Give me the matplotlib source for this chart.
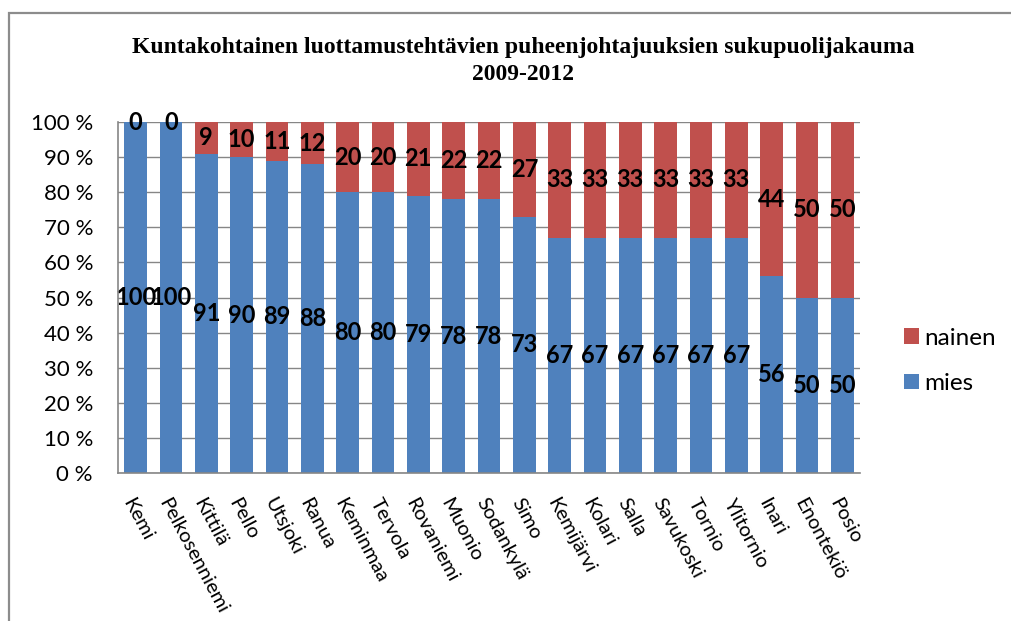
import matplotlib.pyplot as plt
import matplotlib.patches as patches
import numpy as np

# data
kunnat = ["Kemi", "Pelkosenniemi", "Kittilä", "Pello", "Utsjoki", "Ranua",
          "Keminmaa", "Tervola", "Rovaniemi", "Muonio", "Sodankylä", "Simo",
          "Kemijärvi", "Kolari", "Salla", "Savukoski", "Tornio", "Ylitornio",
          "Inari", "Enontekiö", "Posio"]
mies = [100, 100, 91, 90, 89, 88, 80, 80, 79, 78, 78, 73,
        67, 67, 67, 67, 67, 67, 56, 50, 50]
nainen = [0, 0, 9, 10, 11, 12, 20, 20, 21, 22, 22, 27,
          33, 33, 33, 33, 33, 33, 44, 50, 50]
yticks = np.arange(0, 101, 10)

blue = "#4F81BD"
red = "#C0504D"
grid = "#868686"

W, H = 1012, 621
fig = plt.figure(figsize=(W / 100, H / 100), dpi=100)
plt.rcParams["font.family"] = ["Lato", "DejaVu Sans"]

# outer chart frame (cut off at right and bottom)
fig.patches.append(patches.Rectangle((9 / W, -0.1), 1.2, 1.1 - 13 / H,
                                     transform=fig.transFigure, fill=False,
                                     edgecolor="#8c8c8c", linewidth=1.6))

ax = fig.add_axes([118 / W, (H - 473) / H, (860 - 118) / W, (473 - 122) / H])

mies_a = np.array(mies, dtype=float)
nainen_a = np.array(nainen, dtype=float)
tot = mies_a + nainen_a
mp = mies_a / tot * 100
np_ = nainen_a / tot * 100
x = np.arange(len(kunnat))

ax.bar(x, mp, width=0.64, color=blue, label="mies", zorder=3)
ax.bar(x, np_, width=0.64, bottom=mp, color=red, label="nainen", zorder=3)

# value labels in the middle of each segment (the 100s overlap, as in the original)
for i in range(len(kunnat)):
    ax.text(x[i], mp[i] / 2, str(mies[i]), ha="center", va="center",
            fontsize=17, fontweight="bold", zorder=4)
    ax.text(x[i], mp[i] + np_[i] / 2, str(nainen[i]), ha="center", va="center",
            fontsize=17, fontweight="bold", zorder=4)

ax.set_xlim(-0.5, len(kunnat) - 0.5)
ax.set_ylim(0, 100)
ax.set_yticks(yticks)
ax.set_yticklabels([f"{v} %" for v in yticks], fontsize=16)
ax.yaxis.grid(True, color=grid, linewidth=1, zorder=0)
ax.tick_params(axis="y", length=0, pad=18)
ax.tick_params(axis="x", length=0)
for s in ["top", "right"]:
    ax.spines[s].set_visible(False)
for s in ["left", "bottom"]:
    ax.spines[s].set_color(grid)
    ax.spines[s].set_linewidth(1.2)
    ax.spines[s].set_zorder(5)

ax.set_xticks(x)
ax.set_xticklabels([])
for i, k in enumerate(kunnat):
    ax.annotate(k, xy=(x[i], 0), xycoords="data", xytext=(-6, -19),
                textcoords="offset points", rotation=-62,
                rotation_mode="anchor", ha="left", va="center", fontsize=14.5)

fig.text(523 / W, 1 - 48 / H, "Kuntakohtainen luottamustehtävien puheenjohtajuuksien sukupuolijakauma",
         ha="center", va="center", fontsize=17, fontweight="bold",
         family="Liberation Serif")
fig.text(523 / W, 1 - 75 / H, "2009-2012", ha="center", va="center",
         fontsize=17, fontweight="bold", family="Liberation Serif")

h, l = ax.get_legend_handles_labels()
fig.legend(h[::-1], l[::-1], loc="center left", bbox_to_anchor=(882 / W, 1 - 361 / H),
           frameon=False, fontsize=17.5, handlelength=0.62, handleheight=0.62,
           labelspacing=1.0, handletextpad=0.2)

fig.savefig("out.png", dpi=100)
